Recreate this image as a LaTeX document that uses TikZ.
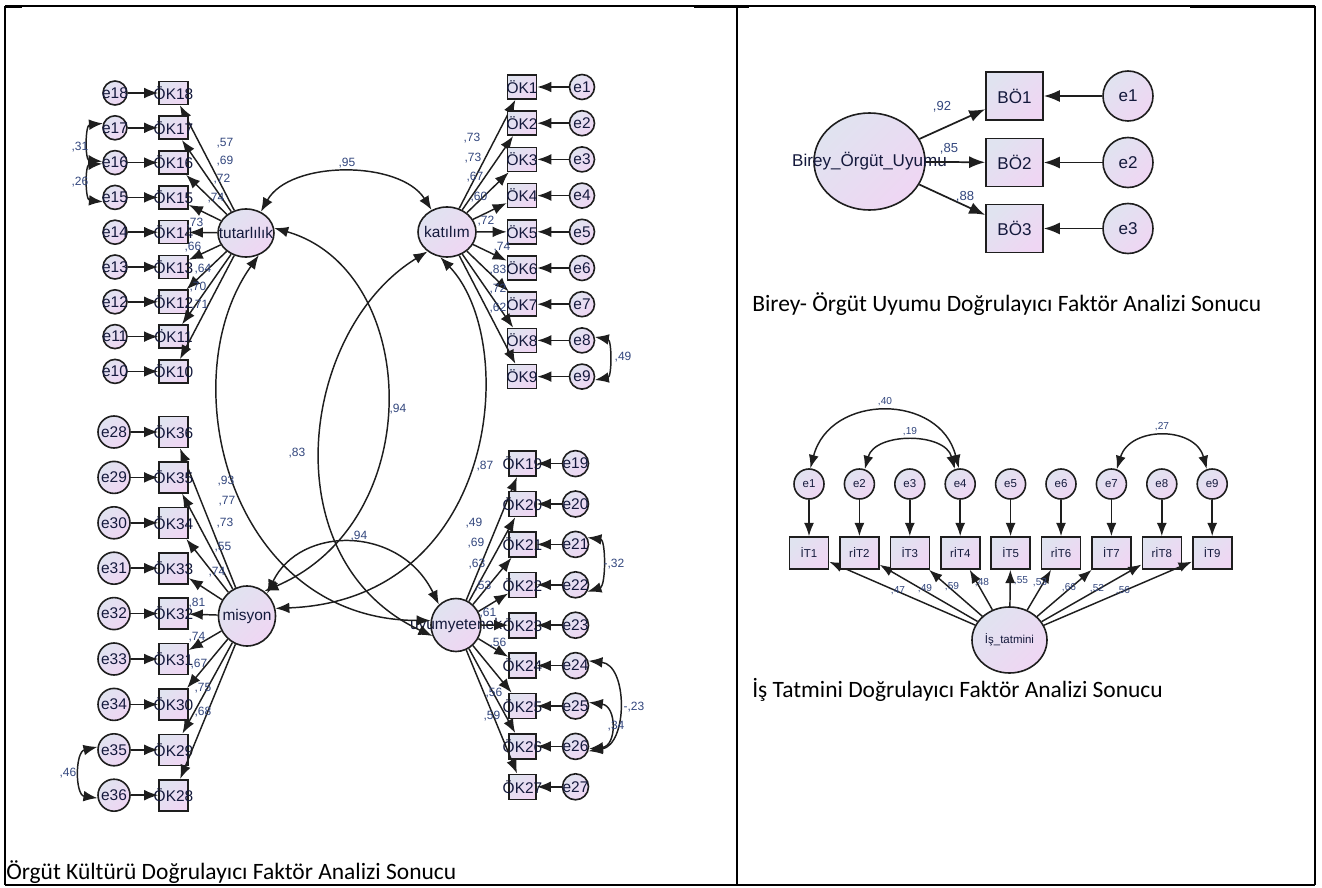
\documentclass[tikz,border=0pt]{standalone}
\usepackage{fontspec}
\setmainfont{Liberation Sans}
\newfontfamily\capfont{Carlito}
\usetikzlibrary{shapes.geometric,arrows.meta}
\definecolor{lavA}{RGB}{224,227,240}
\definecolor{lavB}{RGB}{239,214,243}
\definecolor{lbl}{RGB}{50,70,125}
\definecolor{ntxt}{RGB}{20,25,60}
\definecolor{edge}{RGB}{30,30,30}
\tikzset{
  fillc/.style={top color=lavA, bottom color=lavB, shading angle=45},
  obs/.style n args={2}{rectangle, draw=edge, line width=1.2pt, fillc, inner sep=0pt,
      minimum width=#1*0.75pt, minimum height=#2*0.75pt, text=ntxt},
  errc/.style={circle, draw=edge, line width=1.2pt, fillc, inner sep=0pt,
      minimum size=#1*0.75pt, text=ntxt},
  lat/.style n args={2}{ellipse, draw=edge, line width=1.2pt, fillc, inner sep=0pt,
      minimum width=#1*0.75pt, minimum height=#2*0.75pt, text=ntxt},
  arrA/.style={-{Latex[length=10.5pt,width=8pt]}, line width=1.1pt, draw=edge},
  darrA/.style={{Latex[length=10.5pt,width=8pt]}-{Latex[length=10.5pt,width=8pt]}, line width=1.1pt, draw=edge},
  arrB/.style={-{Latex[length=12pt,width=9pt]}, line width=1.3pt, draw=edge},
  arrC/.style={-{Latex[length=10pt,width=7.5pt]}, line width=1.1pt, draw=edge},
  darrC/.style={{Latex[length=10pt,width=7.5pt]}-{Latex[length=10pt,width=7.5pt]}, line width=1.1pt, draw=edge},
  fA/.style={font=\fontsize{11.6}{12}\selectfont},
  fB/.style={font=\fontsize{12.8}{13}\selectfont},
  fC/.style={font=\fontsize{8.6}{9}\selectfont},
  labA/.style={text=lbl, inner sep=0pt, font=\fontsize{9}{9}\selectfont},
  labB/.style={text=lbl, inner sep=0pt, font=\fontsize{9.8}{10}\selectfont},
  labC/.style={text=lbl, inner sep=0pt, font=\fontsize{7.6}{8}\selectfont},
  capt/.style={anchor=base west, inner sep=0pt, font=\capfont\fontsize{17.6}{20}\selectfont},
  frame/.style={line width=1.1pt, draw=black},
}
\begin{document}
\begin{tikzpicture}[x=0.75pt,y=-0.75pt]
\useasboundingbox (0,0) rectangle (1322,888);
% ---------- frame ----------
\draw[frame] (5,6) -- (1315,6);
\draw[frame] (5,6) -- (5,885);
\draw[frame] (737,6) -- (737,885);
\draw[frame] (1315,6) -- (1315,885);
\draw[frame] (5,885) -- (1315,885);
\draw[line width=2.4pt] (5,6.5) -- (22,6.5);
\draw[line width=2.4pt] (694,6.5) -- (749,6.5);
\draw[line width=2.4pt] (1190,6.5) -- (1315,6.5);

% ---------- left panel: latent factors ----------
\node[lat={56}{48}, fA] (TL) at (246,233) {\makebox[0pt]{tutarlılık}};
\node[lat={58}{50}, fA] (TR) at (447,232) {\makebox[0pt]{katılım}};
\node[lat={57}{60}, fA] (BL) at (247,616) {\makebox[0pt]{misyon}};
\node[lat={50}{53}, fA] (BR) at (456,625) {\makebox[0pt]{uyumyetenek}};

% tutarlilik indicators
\foreach \n [count=\i from 0] in {18,17,16,15,14,13,12,11,10}{
  \node[obs={29}{23}, fA] (ok\n) at (173.5,{93+34.8*\i}) {\makebox[0pt]{ÖK\n}};
  \node[errc=24, fA] (le\n) at (115,{93+34.8*\i}) {\makebox[0pt]{e\n}};
  \draw[arrA] (le\n) -- (ok\n);
  \draw[arrA] (TL) -- (ok\n);
}
% katilim indicators
\foreach \n [count=\i from 0] in {1,2,3,4,5,6,7,8,9}{
  \node[obs={29}{24}, fA] (ok\n) at (522,{87+36.2*\i}) {\makebox[0pt]{ÖK\n}};
  \node[errc=25, fA] (le\n) at (582,{87+36.2*\i}) {\makebox[0pt]{e\n}};
  \draw[arrA] (le\n) -- (ok\n);
  \draw[arrA] (TR) -- (ok\n);
}
% misyon indicators
\foreach \n/\m [count=\i from 0] in {36/28,35/29,34/30,33/31,32/32,31/33,30/34,29/35,28/36}{
  \node[obs={29}{31}, fA] (ok\n) at (173.5,{432+45.4*\i}) {\makebox[0pt]{ÖK\n}};
  \node[errc=32, fA] (le\m) at (114,{432+45.4*\i}) {\makebox[0pt]{e\m}};
  \draw[arrA] (le\m) -- (ok\n);
  \draw[arrA] (BL) -- (ok\n);
}
% uyumyetenek indicators
\foreach \n [count=\i from 0] in {19,20,21,22,23,24,25,26,27}{
  \node[obs={27}{25}, fA] (ok\n) at (522.5,{463.6+40.4*\i}) {\makebox[0pt]{ÖK\n}};
  \node[errc=26, fA] (le\n) at (575.5,{463.6+40.4*\i}) {\makebox[0pt]{e\n}};
  \draw[arrA] (le\n) -- (ok\n);
  \draw[arrA] (BR) -- (ok\n);
}

% factor covariances
\draw[darrA] (TL.55) .. controls (290,160) and (400,160) .. (TR.125);
\draw[darrA] (TL.10) .. controls (420,270) and (430,520) .. (BL.55);
\draw[darrA] (TL.300) .. controls (170,380) and (230,620) .. (BR.170);
\draw[darrA] (TR.255) .. controls (520,340) and (500,600) .. (BL.15);
\draw[darrA] (TR.225) .. controls (300,330) and (270,560) .. (BR.205);
\draw[darrA] (BL.48) .. controls (300,525) and (400,525) .. (BR.130);

% error covariances
\draw[darrA] (le17.160) .. controls (85,125) and (85,160) .. (le16.175);
\draw[darrA] (le16.185) .. controls (85,165) and (85,200) .. (le15.200);
\draw[darrA] (le8.15) .. controls (612,340) and (612,377) .. (le9.-15);
\draw[darrA] (le35.170) .. controls (75,752) and (75,795) .. (le36.190);
\draw[darrA] (le21.30) .. controls (606,540) and (606,586) .. (le22.-30);
\draw[darrA] (le24.20) .. controls (628,665) and (628,745) .. (le26.-20);
\draw[darrA] (le25.15) .. controls (617,706) and (617,746) .. (le26.-10);

% labels left panel
\foreach \x/\y/\t in {225/143/{,57},225/161/{,69},222/179/{,72},216/198/{,74},195/223/{,73},
  193/247/{,66},203/269/{,64},198/287/{,70},200/305/{,71},
  472/138/{,73},473/158/{,73},475/177/{,67},479/197/{,60},486/221/{,72},502/247/{,74},
  498/270/{,83},498/289/{,72},498/308/{,62},
  226/481/{,93},227/501/{,77},225/523/{,73},223/547/{,55},217/572/{,74},197/603/{,81},
  197/637/{,74},199/664/{,67},203/688/{,75},203/712/{,68},
  474/523/{,49},476/543/{,69},477/564/{,63},483/586/{,53},488/613/{,61},498/643/{,56},
  494/693/{,56},492/716/{,59},
  347/163/{,95},398/409/{,94},297/453/{,83},485/466/{,87},359/536/{,94},
  80/147/{,31},80/182/{,26},623/357/{,49},68/773/{,46},614/564/{-,32},634/707/{-,23},616/726/{,34}}{
  \node[labA] at (\x,\y) {\t};
}

% ---------- right top panel ----------
\node[lat={111}{97}, fB] (BU) at (869.5,161.5) {\makebox[0pt]{Birey\_Örgüt\_Uyumu}};
\foreach \n/\y in {1/96,2/162.5,3/228.5}{
  \node[obs={57}{48}, fB] (bo\n) at (1014.5,\y) {BÖ\n};
  \node[errc=50, fB] (be\n) at (1128,\y) {e\n};
  \draw[arrB] (BU) -- (bo\n);
  \draw[arrB] (be\n) -- (bo\n);
}
\node[labB] at (942,107) {,92};
\node[labB] at (949,149) {,85};
\node[labB] at (965,197) {,88};
\node[capt] (cap2) at (752,311) {Birey- Örgüt Uyumu Doğrulayıcı Faktör Analizi Sonucu};

% ---------- right bottom panel ----------
\node[lat={75}{66}, fC] (IS) at (1009.5,640) {İş\_tatmini};
\foreach \n/\t [count=\i from 0] in {1/İT1,2/rİT2,3/İT3,4/rİT4,5/İT5,6/rİT6,7/İT7,8/rİT8,9/İT9}{
  \node[obs={39}{32}, fC] (it\n) at ({809+50.4*\i},553) {\t};
  \node[errc=30, fC] (ie\n) at ({809+50.4*\i},484) {e\n};
  \draw[arrC] (ie\n) -- (it\n);
  \draw[arrC] (IS) -- (it\n);
}
\draw[darrC] (ie1.85) .. controls (830,393) and (940,393) .. (ie4.95);
\draw[darrC] (ie2.70) .. controls (875,432) and (945,432) .. (ie4.110);
\draw[darrC] (ie7.70) .. controls (1130,426) and (1195,426) .. (ie9.110);
\foreach \x/\y/\t in {885/402/{,40},910/432/{,19},1162/427/{,27},
  898/591/{,47},925/589/{,49},952/587/{,59},982/583/{,48},1021/581/{,55},
  1040/583/{,53},1069/588/{,66},1097/589/{,52},1123/591/{,56}}{
  \node[labC] at (\x,\y) {\t};
}
\node[capt] (cap3) at (752,697) {İş Tatmini Doğrulayıcı Faktör Analizi Sonucu};
\node[capt] (cap1) at (6,879) {Örgüt Kültürü Doğrulayıcı Faktör Analizi Sonucu};
\end{tikzpicture}
\end{document}
